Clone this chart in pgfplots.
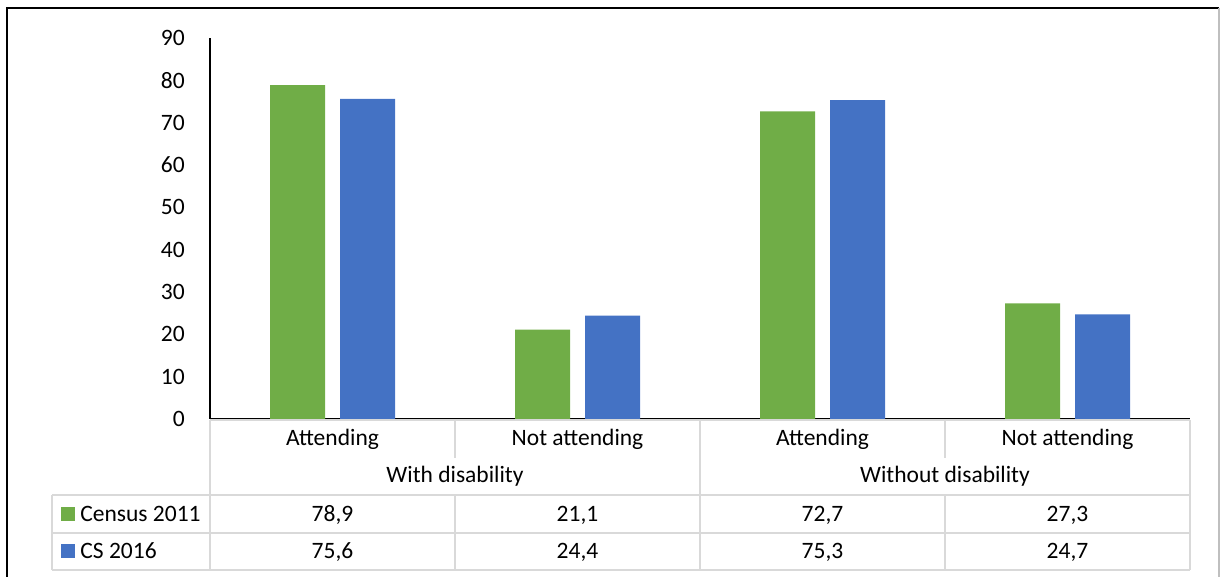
\documentclass[border=0pt]{standalone}
\usepackage{fontspec}
\setmainfont{Carlito}
\usepackage{pgfplots}
\pgfplotsset{compat=1.18}
\definecolor{cgreen}{HTML}{70AD47}
\definecolor{cblue}{HTML}{4472C4}
\definecolor{gridc}{HTML}{D9D9D9}
\newcommand{\f}{\fontsize{11.75}{14}\selectfont}
\begin{document}
\begin{tikzpicture}
\useasboundingbox (0,0) rectangle (610pt,-288.5pt);
\begin{axis}[
 at={(105pt,-209.5pt)}, anchor=south west,
 scale only axis, width=490pt, height=190.5pt,
 xmin=0,xmax=4,ymin=0,ymax=90,
 axis x line=bottom, axis y line=left,
 axis line style={-, black, line width=0.6pt},
 xtick=\empty, ytick={0,10,...,90},
 ytick style={draw=none},
 yticklabel style={font=\f, /pgf/number format/assume math mode=true, anchor=east, xshift=-7pt},
 ybar=7.5pt, bar width=27.5pt,
 clip=false,
]
\addplot[fill=cgreen, draw=none] coordinates {(0.5,78.9) (1.5,21.1) (2.5,72.7) (3.5,27.3)};
\addplot[fill=cblue, draw=none] coordinates {(0.5,75.6) (1.5,24.4) (2.5,75.3) (3.5,24.7)};
\end{axis}
\begin{scope}[x=0.5pt,y=-0.5pt]
 \begin{scope}[draw=gridc, line width=0.75pt]
 \draw (210,420) -- (1190,420);
 \draw (210,420) -- (210,570);
 \draw (1190,420) -- (1190,570);
 \draw (700,420) -- (700,570);
 \draw (455,420) -- (455,458); \draw (945,420) -- (945,458);
 \draw (455,495) -- (455,570); \draw (945,495) -- (945,570);
 \draw (52,495) -- (1190,495);
 \draw (52,533) -- (1190,533);
 \draw (52,570) -- (1190,570);
 \draw (52,495) -- (52,570);
 \end{scope}
 \draw[black, line width=1.2pt] (7,577) -- (7,8) -- (1219,8);
 \draw[black!25, line width=0.6pt] (1219,8) -- (1219,577);
 \begin{scope}[every node/.style={font=\f, inner sep=0pt, anchor=base}]
 \node at (332.5,445) {Attending};
 \node at (577.5,445) {Not attending};
 \node at (822.5,445) {Attending};
 \node at (1067.5,445) {Not attending};
 \node at (455,482) {With disability};
 \node at (945,482) {Without disability};
 \node at (332.5,521) {78,9};
 \node at (577.5,521) {21,1};
 \node at (822.5,521) {72,7};
 \node at (1067.5,521) {27,3};
 \node at (332.5,558) {75,6};
 \node at (577.5,558) {24,4};
 \node at (822.5,558) {75,3};
 \node at (1067.5,558) {24,7};
 \node[anchor=base west] at (80,521) {Census 2011};
 \node[anchor=base west] at (80,558) {CS 2016};
 \end{scope}
 \fill[cgreen] (61,507) rectangle (75,521);
 \fill[cblue] (61,544) rectangle (75,558);
\end{scope}
\end{tikzpicture}
\end{document}
